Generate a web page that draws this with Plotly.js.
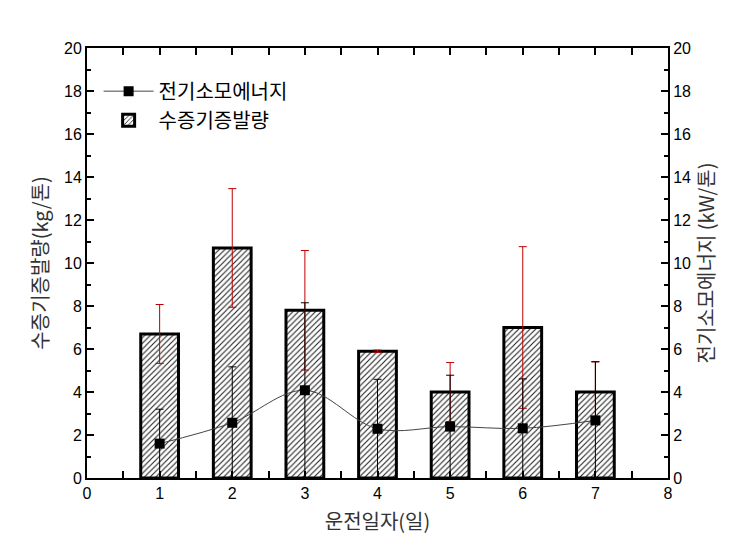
<!DOCTYPE html>
<html>
<head>
<meta charset="utf-8">
<script src="https://cdn.plot.ly/plotly-3.0.1.min.js"></script>
<style>body{margin:0;background:#fff}#chart{width:750px;height:556px}</style>
</head>
<body>
<div id="chart"></div>
<script>
const days = [1, 2, 3, 4, 5, 6, 7];
const steamEvap = [6.7, 10.7, 7.8, 5.9, 4.0, 7.0, 4.0];
const steamErr = [1.37, 2.76, 2.78, 0.05, 1.37, 3.76, 1.4];
const powerUse = [1.6, 2.57, 4.08, 2.29, 2.39, 2.31, 2.68];
const powerErr = [1.6, 2.6, 4.07, 2.3, 2.39, 2.3, 2.73];
const xTitle = '운전일자(일)';
const yTitle = '수증기증발량(kg/톤)';
const y2Title = '전기소모에너지 (kW/톤)';
const barName = '수증기증발량';
const lineName = '전기소모에너지';

const krFont = '"Noto Sans CJK KR", "Noto Sans", sans-serif';
const numFont = 'Liberation Sans, Arial, sans-serif';

const bars = {
  type: 'bar', x: days, y: steamEvap, name: barName, width: 0.52,
  marker: {color: '#fff', line: {color: '#000', width: 3},
    pattern: {shape: '/', fgcolor: '#222', bgcolor: '#fff', size: 4, solidity: 0.28}},
  error_y: {type: 'data', array: steamErr, visible: true, color: '#c00000', thickness: 1, width: 4},
  legendrank: 2
};
const line = {
  type: 'scatter', mode: 'lines+markers', x: days, y: powerUse, name: lineName, yaxis: 'y2',
  line: {shape: 'spline', color: '#444', width: 1},
  marker: {symbol: 'square', size: 10, color: '#000'},
  error_y: {type: 'data', array: powerErr, visible: true, color: '#000', thickness: 1, width: 4},
  legendrank: 1
};

const axisCommon = {
  showgrid: false, zeroline: false, showline: true, linecolor: '#000', linewidth: 2,
  ticks: 'inside', ticklen: 7, tickwidth: 1.5, tickcolor: '#000',
  tickfont: {family: numFont, size: 16, color: '#000'},
  minor: {ticks: 'inside', ticklen: 4, tickwidth: 1.5, tickcolor: '#000', dtick: 1}
};

const layout = {
  width: 750, height: 556,
  margin: {l: 87, r: 82, t: 48, b: 78},
  paper_bgcolor: '#fff', plot_bgcolor: '#fff',
  showlegend: true,
  legend: {x: 0.02, y: 0.945, xanchor: 'left', yanchor: 'top', bgcolor: 'rgba(0,0,0,0)',
    font: {family: krFont, size: 20, color: '#000'}, itemwidth: 50, tracegroupgap: 0},
  xaxis: Object.assign({}, axisCommon, {
    range: [0, 8], dtick: 1, tick0: 0, mirror: 'allticks',
    minor: {ticks: 'inside', ticklen: 5, tickwidth: 1.5, tickcolor: '#000', dtick: 0.5},
    title: {text: xTitle, font: {family: krFont, size: 20, color: '#333'}, standoff: 14}
  }),
  yaxis: Object.assign({}, axisCommon, {
    range: [0, 20], dtick: 2, tick0: 0,
    title: {text: yTitle, font: {family: krFont, size: 20, color: '#333'}, standoff: 10}
  }),
  yaxis2: Object.assign({}, axisCommon, {
    range: [0, 20], dtick: 2, tick0: 0, overlaying: 'y', side: 'right',
    title: {text: y2Title, font: {family: krFont, size: 20, color: '#333'}, standoff: 10}
  })
};

Plotly.newPlot('chart', [bars, line], layout, {displayModeBar: false});
</script>
</body>
</html>
